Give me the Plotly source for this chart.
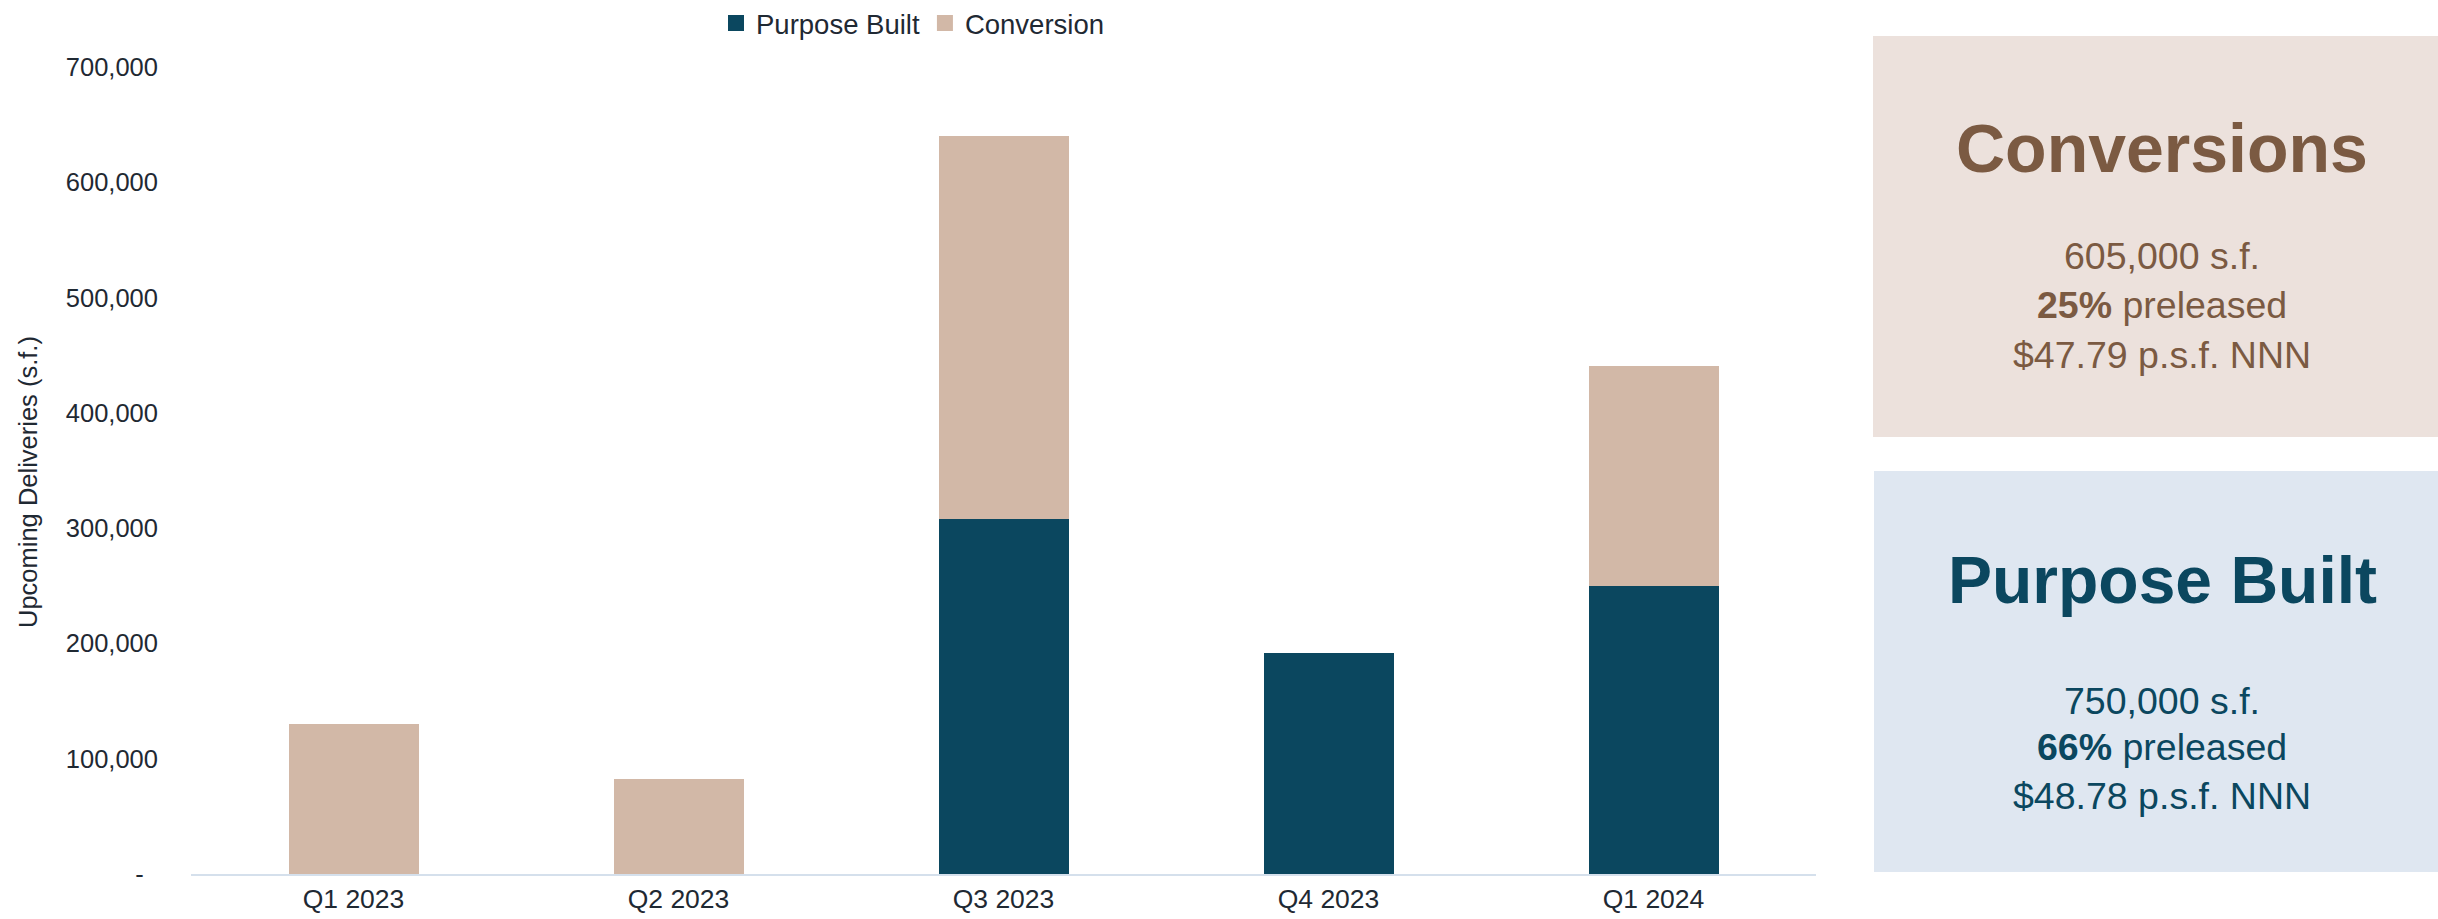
import plotly.graph_objects as go

categories = ["Q1 2023", "Q2 2023", "Q3 2023", "Q4 2023", "Q1 2024"]
purpose_built = [0, 0, 308000, 192000, 250000]
conversion = [130000, 82000, 332000, 0, 191000]

tick_vals = [0, 100000, 200000, 300000, 400000, 500000, 600000, 700000]
tick_text = ["-\u00a0\u00a0", "100,000", "200,000", "300,000", "400,000", "500,000", "600,000", "700,000"]

W, H = 2438, 919
ML, MR, MT, MB = 191, 2438 - 1816, 67, 919 - 874
PW, PH = W - ML - MR, H - MT - MB


def xp(px):
    return (px - ML) / PW


def yp(py):
    return (H - MB - py) / PH


FONT = "Arial, Liberation Sans, sans-serif"
DARK = "#0B475F"
TAN = "#D2B8A7"
TXT = "#1F2933"
BROWN = "#7B5A42"

fig = go.Figure()
fig.add_trace(go.Bar(x=categories, y=purpose_built, name="Purpose Built", showlegend=False,
                     marker=dict(color=DARK, line=dict(width=0))))
fig.add_trace(go.Bar(x=categories, y=conversion, name="Conversion", showlegend=False,
                     marker=dict(color=TAN, line=dict(width=0))))
# legend entries with larger square swatches
for nm, col in [("Purpose Built", DARK), ("Conversion", TAN)]:
    fig.add_trace(go.Scatter(x=[None], y=[None], mode="markers", name=nm,
                             marker=dict(symbol="square", size=16, color=col, line=dict(width=0))))

shapes = [
    dict(type="rect", xref="paper", yref="paper", x0=xp(1873), x1=xp(2440), y0=yp(437), y1=yp(36),
         fillcolor="#ECE1DC", line=dict(width=0), layer="below"),
    dict(type="rect", xref="paper", yref="paper", x0=xp(1874), x1=xp(2440), y0=yp(872), y1=yp(471),
         fillcolor="#DFE7F1", line=dict(width=0), layer="below"),
]

cx = xp(2162)


def ann(text, py, size, color):
    return dict(text=text, xref="paper", yref="paper", x=cx, y=yp(py), showarrow=False,
                font=dict(size=size, color=color, family=FONT), xanchor="center", yanchor="middle")


annotations = [
    dict(text="Upcoming Deliveries (s.f.)", xref="paper", yref="paper", x=xp(28), y=yp(482),
         textangle=-90, showarrow=False, font=dict(size=25.5, color=TXT, family=FONT),
         xanchor="center", yanchor="middle"),
    ann("<b>Conversions</b>", 148, 68, BROWN),
    ann("605,000 s.f.", 256, 37.5, BROWN),
    ann("<b>25%</b> preleased", 305, 37.5, BROWN),
    ann("$47.79 p.s.f. NNN", 355, 37.5, BROWN),
    ann("<b>Purpose Built</b>", 580, 66, DARK),
    ann("750,000 s.f.", 701, 37.5, DARK),
    ann("<b>66%</b> preleased", 747, 37.5, DARK),
    ann("$48.78 p.s.f. NNN", 796, 37.5, DARK),
]

fig.update_layout(
    width=W, height=H,
    margin=dict(l=ML, r=MR, t=MT, b=MB, pad=0, autoexpand=False),
    paper_bgcolor="white", plot_bgcolor="white",
    barmode="stack", bargap=0.6,
    font=dict(family=FONT, size=25, color=TXT),
    showlegend=True,
    legend=dict(orientation="h", xref="container", yref="container",
                x=716 / W, y=1 - 23 / H, xanchor="left", yanchor="middle",
                font=dict(size=27.5, color=TXT), traceorder="normal", bgcolor="rgba(0,0,0,0)",
                itemclick=False),
    shapes=shapes,
    annotations=annotations,
    xaxis=dict(showgrid=False, showline=True, linecolor="#D5E0EC", linewidth=2,
               ticks="", tickfont=dict(size=26.5, color=TXT), ticklabelstandoff=0,
               zeroline=False, automargin=False),
    yaxis=dict(range=[0, 700000], tickvals=tick_vals, ticktext=tick_text, showgrid=False,
               showline=False, zeroline=False, ticks="", tickfont=dict(size=25.5, color=TXT),
               ticklabelstandoff=32, automargin=False),
)

fig.write_html("out.html")
